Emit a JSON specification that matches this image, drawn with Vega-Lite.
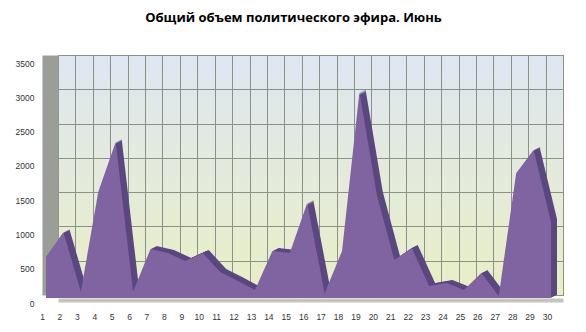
{
  "$schema": "https://vega.github.io/schema/vega-lite/v6.json",
  "width": 505,
  "height": 240,
  "autosize": {"type": "none"},
  "padding": {"left": 58, "top": 55, "right": 23, "bottom": 37},
  "background": "white",
  "title": {
    "text": "Общий объем политического эфира. Июнь",
    "font": "Open Sans",
    "fontSize": 13,
    "fontWeight": "bold",
    "color": "#000000",
    "anchor": "middle",
    "dx": -17,
    "offset": 30
  },
  "data": {
    "values": [
      {"day": 1, "value": 600},
      {"day": 2, "value": 960},
      {"day": 3, "value": 90},
      {"day": 4, "value": 1545},
      {"day": 5, "value": 2275},
      {"day": 6, "value": 90},
      {"day": 7, "value": 715},
      {"day": 8, "value": 655},
      {"day": 9, "value": 540},
      {"day": 10, "value": 655},
      {"day": 11, "value": 380},
      {"day": 12, "value": 250},
      {"day": 13, "value": 115},
      {"day": 14, "value": 685},
      {"day": 15, "value": 655},
      {"day": 16, "value": 1385},
      {"day": 17, "value": 70},
      {"day": 18, "value": 685},
      {"day": 19, "value": 3005},
      {"day": 20, "value": 1500},
      {"day": 21, "value": 555},
      {"day": 22, "value": 730},
      {"day": 23, "value": 175},
      {"day": 24, "value": 220},
      {"day": 25, "value": 115},
      {"day": 26, "value": 365},
      {"day": 27, "value": 30},
      {"day": 28, "value": 1820},
      {"day": 29, "value": 2160},
      {"day": 30, "value": 1110}
    ]
  },
  "encoding": {
    "x": {
      "field": "day",
      "type": "quantitative",
      "scale": {"domain": [1, 30], "nice": false, "zero": false},
      "axis": {
        "title": null,
        "values": [1,2,3,4,5,6,7,8,9,10,11,12,13,14,15,16,17,18,19,20,21,22,23,24,25,26,27,28,29,30],
        "format": "d",
        "labelAngle": 0,
        "labelOffset": -16,
        "labelPadding": 12,
        "labelFont": "Liberation Sans",
        "labelFontSize": 8.5,
        "labelColor": "#333333",
        "labelFlush": false,
        "labelOverlap": false,
        "ticks": false,
        "tickSize": 0,
        "domain": true,
        "domainColor": "#c4c5bd",
        "domainWidth": 4,
        "offset": 5,
        "grid": true,
        "gridColor": "#8b9186",
        "gridWidth": 1
      }
    },
    "y": {
      "field": "value",
      "type": "quantitative",
      "scale": {"domain": [0, 3500], "nice": false},
      "axis": {
        "title": null,
        "values": [0, 500, 1000, 1500, 2000, 2500, 3000, 3500],
        "format": "d",
        "labelOffset": 8,
        "labelPadding": 16,
        "labelFont": "Liberation Sans",
        "labelFontSize": 8.5,
        "labelColor": "#333333",
        "labelFlush": false,
        "ticks": false,
        "tickSize": 0,
        "domain": true,
        "domainColor": "#9a9e96",
        "domainWidth": 16,
        "offset": 8,
        "grid": true,
        "gridColor": "#8b9186",
        "gridWidth": 1
      }
    }
  },
  "layer": [
    {"mark": {"type": "area", "color": "#5b4780", "xOffset": -6, "x2Offset": -6, "yOffset": 0, "y2Offset": 0}},
    {"mark": {"type": "area", "color": "#5b4780", "xOffset": -7, "x2Offset": -7, "yOffset": 0.5, "y2Offset": 0.5}},
    {"mark": {"type": "area", "color": "#5b4780", "xOffset": -8, "x2Offset": -8, "yOffset": 1, "y2Offset": 1}},
    {"mark": {"type": "area", "color": "#5b4780", "xOffset": -9, "x2Offset": -9, "yOffset": 1.5, "y2Offset": 1.5}},
    {"mark": {"type": "area", "color": "#5b4780", "xOffset": -10, "x2Offset": -10, "yOffset": 2, "y2Offset": 2}},
    {"mark": {"type": "area", "color": "#5b4780", "xOffset": -11, "x2Offset": -11, "yOffset": 2.5, "y2Offset": 2.5}},
    {"mark": {"type": "area", "color": "#8064a2", "xOffset": -12, "x2Offset": -12, "yOffset": 3, "y2Offset": 3}}
  ],
  "config": {
    "view": {
      "stroke": "#8b9186",
      "fill": {
        "gradient": "linear",
        "x1": 0, "y1": 0, "x2": 0, "y2": 1,
        "stops": [
          {"offset": 0, "color": "#dfe6f2"},
          {"offset": 1, "color": "#e8efc4"}
        ]
      }
    }
  }
}
